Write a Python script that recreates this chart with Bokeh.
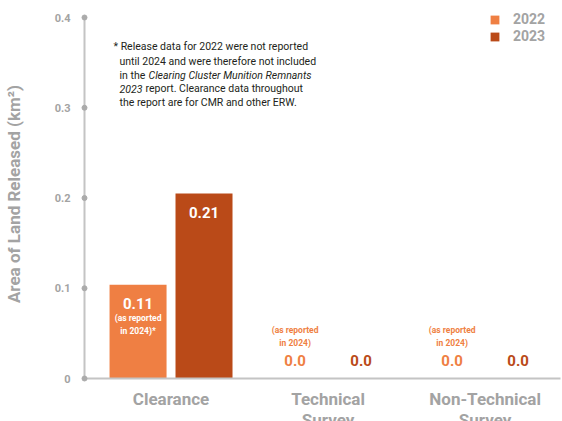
from bokeh.plotting import figure
from bokeh.models import Range1d, Label, ColumnDataSource, FixedTicker, Legend, LegendItem
from bokeh.core.properties import value
from bokeh.transform import dodge
from bokeh.embed import file_html
from bokeh.resources import INLINE

# ---- data ----
categories = ["Clearance", "Technical\nSurvey", "Non-Technical\nSurvey"]
years = ["2022", "2023"]
values_2022 = [0.104, 0.0, 0.0]
values_2023 = [0.205, 0.0, 0.0]
labels_2022 = ["0.11", "0.0", "0.0"]
labels_2023 = ["0.21", "0.0", "0.0"]
notes_2022 = ["(as reported\nin 2024)*", "(as reported\nin 2024)", "(as reported\nin 2024)"]
y_ticks = [0, 0.1, 0.2, 0.3, 0.4]
y_tick_labels = ["0", "0.1", "0.2", "0.3", "0.4"]
footnote = [
    "* Release data for 2022 were not reported",
    "until 2024 and were therefore not included",
    "in the",
    "Clearing Cluster Munition Remnants",
    "2023",
    "report. Clearance data throughout",
    "the report are for CMR and other ERW.",
]

C22 = "#EF7F43"
C23 = "#BA4A18"
GREY = "#A3A3A3"
AXIS = "#C4C4C4"
FONT = "Roboto"

PX_PER_UNIT_Y = 902.5
X0, X1 = -0.551, 2.48
Y1 = y_ticks[-1] + 8 / PX_PER_UNIT_Y
p = figure(frame_width=476, frame_height=369, x_range=Range1d(X0, X1), y_range=Range1d(0, Y1),
           output_backend="svg", toolbar_location=None,
           min_border_left=76, min_border_right=2, min_border_top=9, min_border_bottom=4)
p.outline_line_color = None
p.xgrid.grid_line_color = None
p.ygrid.grid_line_color = None
p.background_fill_color = "white"
p.border_fill_color = "white"

xs = list(range(len(categories)))
src = ColumnDataSource(dict(x=xs, v22=values_2022, v23=values_2023))
BW = 0.363
OFF = 0.21
r22 = p.vbar(x=dodge("x", -OFF, range=p.x_range), top="v22", width=BW, source=src,
             fill_color=C22, line_color=None)
r23 = p.vbar(x=dodge("x", OFF, range=p.x_range), top="v23", width=BW, source=src,
             fill_color=C23, line_color=None)

# value labels
def lab_source(vals, labs, col, dx):
    colors = ["white" if v > 0 else col for v in vals]
    offs = [19 if v > 0 else -18 for v in vals]
    return ColumnDataSource(dict(x=[i + dx for i in xs], y=vals, t=labs, c=colors, o=offs))

for vals, labs, col, dx in [(values_2022, labels_2022, C22, -OFF), (values_2023, labels_2023, C23, OFF)]:
    s = lab_source(vals, labs, col, dx)
    p.text(x="x", y="y", text="t", source=s, text_color="c", y_offset="o",
           text_align="center", text_baseline="middle", text_font=value(FONT),
           text_font_style="bold", text_font_size="15px")

ns = ColumnDataSource(dict(
    x=[i - OFF for i in xs], y=values_2022, t=notes_2022,
    c=["white" if v > 0 else C22 for v in values_2022],
    o=[40 if v > 0 else -42 for v in values_2022]))
p.text(x="x", y="y", text="t", source=ns, text_color="c", y_offset="o",
       text_align="center", text_baseline="middle", text_font=value(FONT),
       text_font_style="bold", text_font_size="8.5px", text_line_height=1.3)

# axes
p.yaxis.ticker = FixedTicker(ticks=y_ticks)
p.yaxis.major_label_overrides = {t: l for t, l in zip(y_ticks, y_tick_labels)}
p.yaxis.major_tick_line_color = None
p.yaxis.minor_tick_line_color = None
p.yaxis.axis_line_color = None
p.yaxis.major_label_text_color = GREY
p.yaxis.major_label_text_font = FONT
p.yaxis.major_label_text_font_style = "bold"
p.yaxis.major_label_text_font_size = "11px"
p.yaxis.major_label_standoff = 8
p.yaxis.axis_label = "Area of Land Released (km²)"
p.yaxis.axis_label_text_color = GREY
p.yaxis.axis_label_text_font = FONT
p.yaxis.axis_label_text_font_style = "bold"
p.yaxis.axis_label_text_font_size = "17px"
p.yaxis.axis_label_standoff = 28

p.xaxis.ticker = FixedTicker(ticks=xs)
p.xaxis.major_label_overrides = {i: c for i, c in zip(xs, categories)}
p.xaxis.major_tick_line_color = None
p.xaxis.minor_tick_line_color = None
p.xaxis.axis_line_color = AXIS
p.xaxis.axis_line_width = 2
p.xaxis.major_label_text_color = GREY
p.xaxis.major_label_text_font = FONT
p.xaxis.major_label_text_font_style = "bold"
p.xaxis.major_label_text_font_size = "17px"
p.xaxis.major_label_text_line_height = 1.05
p.xaxis.major_label_standoff = 4

# y axis line (ends at the top tick) and tick dots
p.segment(x0=[X0], y0=[y_ticks[0]], x1=[X0], y1=[y_ticks[-1]], line_color=AXIS, line_width=2,
          level="overlay")
p.scatter(x=[X0] * len(y_ticks), y=y_ticks, size=5, color="#ABABAB", level="overlay")

# footnote
def px(xp):
    return X0 + (xp - 84) / 157.0

def py(yp):
    return (379 - yp) / PX_PER_UNIT_Y

fn_pos = [(113, 47, "normal"), (119, 61.5, "normal"), (119, 75.5, "normal"), (148, 75.5, "italic"),
          (119, 89, "italic"), (145, 89, "normal"), (119, 102.5, "normal")]
for (xp, yp, st), t in zip(fn_pos, footnote):
    p.add_layout(Label(x=px(xp), y=py(yp), text=t, text_align="left", text_baseline="middle",
                       text_font=FONT, text_font_style=st, text_font_size="10.5px",
                       text_color="#231F20"))

legend = Legend(items=[LegendItem(label=years[0], renderers=[r22]),
                       LegendItem(label=years[1], renderers=[r23])],
                location=(405, 334), orientation="vertical",
                glyph_width=11, glyph_height=11, label_height=11, label_standoff=13,
                spacing=1, padding=0, margin=0,
                border_line_color=None, background_fill_alpha=0,
                label_text_font=FONT, label_text_font_style="bold",
                label_text_font_size="14px", label_text_color=GREY)
p.add_layout(legend)

open("out.html", "w").write(file_html(p, INLINE))
